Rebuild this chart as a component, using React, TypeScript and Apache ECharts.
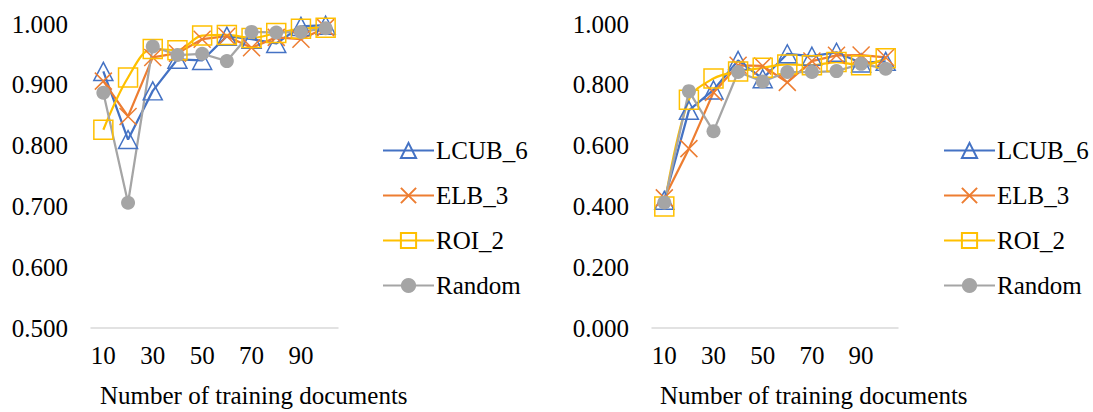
import React, { useEffect, useRef } from "react";
import * as echarts from "echarts";

// Number of training documents
const categories = ["10", "20", "30", "40", "50", "60", "70", "80", "90", "100"];

// Left panel
const leftLCUB6 = [0.922, 0.810, 0.890, 0.942, 0.940, 0.980, 0.975, 0.968, 0.996, 0.998];
const leftELB3 = [0.906, 0.848, 0.945, 0.952, 0.975, 0.980, 0.961, 0.978, 0.975, 0.994];
const leftROI2 = [0.826, 0.912, 0.959, 0.957, 0.981, 0.982, 0.977, 0.985, 0.992, 0.994];
const leftRandom = [0.887, 0.706, 0.963, 0.949, 0.951, 0.939, 0.987, 0.986, 0.987, 0.993];

// Right panel
const rightLCUB6 = [0.420, 0.716, 0.783, 0.880, 0.820, 0.902, 0.894, 0.907, 0.872, 0.877];
const rightELB3 = [0.428, 0.590, 0.775, 0.864, 0.862, 0.808, 0.878, 0.897, 0.898, 0.890];
const rightROI2 = [0.400, 0.751, 0.821, 0.844, 0.856, 0.867, 0.864, 0.875, 0.864, 0.887];
const rightRandom = [0.413, 0.779, 0.647, 0.842, 0.811, 0.842, 0.842, 0.845, 0.869, 0.853];

const seriesNames = ["LCUB_6", "ELB_3", "ROI_2", "Random"];
const xAxisTitle = "Number of training documents";

const FONT = "Liberation Serif";
const BLUE = "#4472C4";
const ORANGE = "#ED7D31";
const YELLOW = "#FFC000";
const GRAY = "#A5A5A5";

const CROSS = "path://M0,0L20,20M20,0L0,20";

const labelRich = { t: { fontFamily: FONT, fontSize: 25, color: "#000" } };

function makeSeries(idx: number, lcub: number[], elb: number[], roi: number[], rnd: number[]) {
  const base = { type: "line", xAxisIndex: idx, yAxisIndex: idx, z: 2, showSymbol: true, showAllSymbol: true };
  return [
    {
      ...base,
      name: seriesNames[0],
      data: lcub,
      symbol: "triangle",
      symbolSize: [19, 18],
      lineStyle: { color: BLUE, width: 2.25 },
      itemStyle: { color: "rgba(0,0,0,0)", borderColor: BLUE, borderWidth: 1.5 },
    },
    {
      ...base,
      name: seriesNames[1],
      data: elb,
      symbol: CROSS,
      symbolSize: 17,
      lineStyle: { color: ORANGE, width: 2.25 },
      itemStyle: { color: "rgba(0,0,0,0)", borderColor: ORANGE, borderWidth: 1.5 },
    },
    {
      ...base,
      name: seriesNames[2],
      data: roi,
      smooth: 0.35,
      symbol: "rect",
      symbolSize: 19,
      lineStyle: { color: YELLOW, width: 2.25 },
      itemStyle: { color: "rgba(0,0,0,0)", borderColor: YELLOW, borderWidth: 1.5 },
    },
    {
      ...base,
      name: seriesNames[3],
      data: rnd,
      symbol: "circle",
      symbolSize: 14,
      lineStyle: { color: GRAY, width: 2.25 },
      itemStyle: { color: GRAY, borderColor: GRAY, borderWidth: 0 },
    },
  ];
}

function makeXAxis(idx: number) {
  return {
    type: "category",
    gridIndex: idx,
    data: categories,
    boundaryGap: true,
    axisLine: { lineStyle: { color: "#D9D9D9", width: 1.5 } },
    axisTick: { show: false },
    axisLabel: {
      interval: 1,
      fontFamily: FONT,
      fontSize: 25,
      color: "#000",
      margin: 15,
      formatter: (v: string) => `{t|${v}}`,
      rich: labelRich,
    },
    splitLine: { show: false },
  };
}

function makeYAxis(idx: number, min: number, max: number, interval: number) {
  return {
    type: "value",
    gridIndex: idx,
    min,
    max,
    interval,
    axisLine: { show: false },
    axisTick: { show: false },
    splitLine: { show: false },
    axisLabel: {
      fontFamily: FONT,
      fontSize: 25,
      color: "#000",
      margin: 23,
      formatter: (v: number) => `{t|${v.toFixed(3)}}`,
      rich: labelRich,
    },
  };
}

function makeLegend(left: number) {
  return {
    orient: "vertical",
    left,
    top: 133,
    itemWidth: 51,
    itemHeight: 19,
    itemGap: 20,
    data: seriesNames,
    selectedMode: false,
    textStyle: { fontFamily: FONT, fontSize: 25, color: "#000", padding: [0, 0, 0, -3] },
  };
}

export default function App() {
  const ref = useRef<HTMLDivElement>(null);

  useEffect(() => {
    if (!ref.current) return;
    const chart = echarts.init(ref.current, undefined, { renderer: "svg" });
    chart.setOption({
      animation: false,
      backgroundColor: "#fff",
      textStyle: { fontFamily: FONT },
      grid: [
        { left: 91, top: 24, width: 247, height: 304 },
        { left: 652, top: 24, width: 246, height: 304 },
      ],
      xAxis: [makeXAxis(0), makeXAxis(1)],
      yAxis: [makeYAxis(0, 0.5, 1.0, 0.1), makeYAxis(1, 0, 1.0, 0.2)],
      legend: [makeLegend(377), makeLegend(938)],
      series: [
        ...makeSeries(0, leftLCUB6, leftELB3, leftROI2, leftRandom),
        ...makeSeries(1, rightLCUB6, rightELB3, rightROI2, rightRandom),
      ],
      graphic: [
        {
          type: "text",
          left: 100,
          top: 383,
          style: { text: xAxisTitle, font: `25px ${FONT}`, fill: "#000" },
        },
        {
          type: "text",
          left: 660,
          top: 383,
          style: { text: xAxisTitle, font: `25px ${FONT}`, fill: "#000" },
        },
      ],
    });
    return () => chart.dispose();
  }, []);

  return (
    <div
      ref={ref}
      style={{ position: "fixed", left: 0, top: 0, width: 1093, height: 412, background: "#fff" }}
    />
  );
}
